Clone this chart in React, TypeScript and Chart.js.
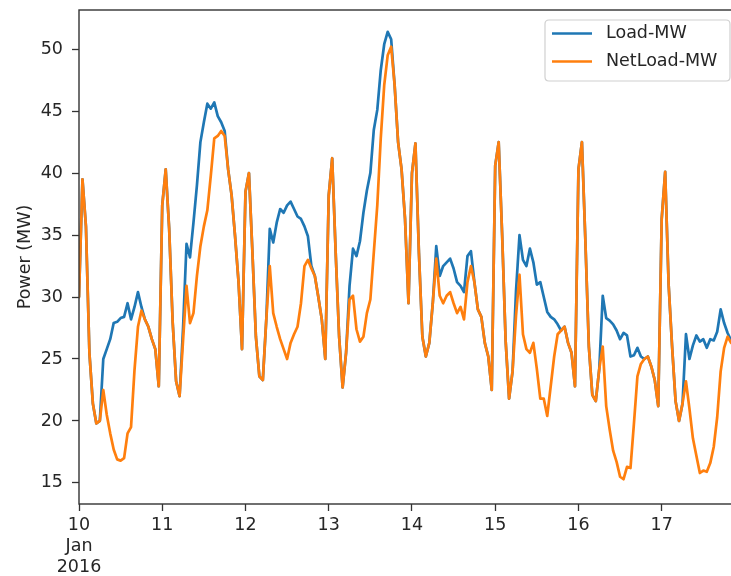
import { useEffect, useRef } from 'react';
import { Chart, registerables } from 'chart.js';

Chart.register(...registerables);

// Hourly data starting 2016-01-10 00:00
const SERIES_NAMES = ['Load-MW', 'NetLoad-MW'];
const Y_TITLE = 'Power (MW)';
const DAY_LABELS = ['10', '11', '12', '13', '14', '15', '16', '17'];
const FIRST_LABEL_EXTRA = ['Jan', '2016'];
const DAY_TICK_HOURS = [0, 24, 48, 72, 96, 120, 144, 168];
const Y_TICKS = [15, 20, 25, 30, 35, 40, 45, 50];

const LOAD_MW = [
  30.0, 39.5, 35.7, 25.5, 21.4, 19.8, 20.0, 25.0, 25.8, 26.6, 27.9, 28.0, 28.3, 28.4, 29.5, 28.2, 29.2, 30.4, 29.2, 28.2, 27.6, 26.6, 25.8, 22.8,
  37.4, 40.3, 35.5, 28.0, 23.2, 22.0, 27.5, 34.3, 33.2, 36.0, 39.0, 42.5, 44.1, 45.6, 45.2, 45.7, 44.6, 44.1, 43.4, 40.3, 38.2, 34.9, 31.2, 25.8,
  38.5, 40.0, 33.6, 26.8, 23.6, 23.3, 28.2, 35.5, 34.4, 36.0, 37.1, 36.8, 37.4, 37.7, 37.1, 36.5, 36.3, 35.7, 34.9, 32.5, 31.7, 30.0, 28.2, 25.0,
  38.2, 41.2, 33.6, 26.8, 22.7, 25.5, 30.9, 33.9, 33.3, 34.5, 36.8, 38.6, 40.0, 43.5, 45.1, 48.3, 50.4, 51.4, 50.8, 47.1, 42.5, 40.3, 36.3, 29.5,
  40.0, 42.4, 33.6, 26.8, 25.2, 26.3, 29.5, 34.1, 31.7, 32.5, 32.8, 33.1, 32.3, 31.2, 30.9, 30.4, 33.3, 33.7, 31.2, 29.0, 28.4, 26.3, 25.2, 22.5,
  40.6, 42.5, 35.0, 26.5, 21.8, 24.0, 30.5, 35.0, 33.0, 32.5, 33.9, 32.8, 31.0, 31.2, 30.0, 28.8, 28.4, 28.2, 27.8, 27.3, 27.6, 26.3, 25.5, 22.8,
  40.3, 42.5, 34.5, 26.0, 22.1, 21.6, 24.2, 30.1, 28.3, 28.1, 27.8, 27.3, 26.6, 27.1, 26.9, 25.2, 25.3, 25.9, 25.2, 25.0, 25.2, 24.4, 23.3, 21.2,
  36.3, 40.1, 31.0, 26.0, 21.6, 20.0, 21.4, 27.0, 25.0, 26.1, 26.9, 26.4, 26.6, 25.9, 26.6, 26.5, 27.2, 29.0, 27.9, 27.1, 26.5, 26.4, 26.2,
];

const NETLOAD_MW = [
  30.0, 39.5, 35.7, 25.5, 21.4, 19.8, 20.0, 22.5, 20.5, 19.0, 17.7, 16.9, 16.8, 17.0, 19.0, 19.5, 24.1, 27.6, 28.9, 28.2, 27.6, 26.6, 25.8, 22.8,
  37.4, 40.3, 35.5, 28.0, 23.2, 22.0, 26.5, 30.9, 27.9, 28.7, 31.7, 34.1, 35.7, 37.0, 39.8, 42.8, 43.0, 43.4, 43.0, 40.3, 38.2, 34.9, 31.2, 25.8,
  38.5, 40.0, 33.6, 26.8, 23.6, 23.3, 28.2, 32.5, 28.7, 27.6, 26.6, 25.8, 25.0, 26.3, 27.0, 27.6, 29.5, 32.5, 33.0, 32.3, 31.7, 30.0, 28.2, 25.0,
  38.2, 41.2, 33.6, 26.8, 22.7, 25.5, 29.8, 30.1, 27.4, 26.4, 26.8, 28.7, 29.8, 33.6, 37.4, 42.8, 47.1, 49.5, 50.2, 47.1, 42.5, 40.3, 36.3, 29.5,
  40.0, 42.4, 33.6, 26.8, 25.2, 26.3, 29.5, 33.1, 30.1, 29.5, 30.1, 30.4, 29.5, 28.7, 29.2, 28.2, 31.2, 32.5, 31.2, 29.0, 28.4, 26.3, 25.2, 22.5,
  40.6, 42.5, 35.0, 26.5, 21.8, 24.0, 28.5, 31.8, 27.0, 25.8, 25.5, 26.3, 24.2, 21.8, 21.8, 20.4, 22.8, 25.2, 27.0, 27.3, 27.6, 26.3, 25.5, 22.8,
  40.3, 42.5, 34.5, 26.0, 22.1, 21.6, 24.2, 26.0, 21.2, 19.3, 17.6, 16.7, 15.5, 15.3, 16.3, 16.2, 19.8, 23.6, 24.6, 25.0, 25.2, 24.4, 23.3, 21.2,
  36.3, 40.1, 31.0, 26.0, 21.6, 20.0, 21.4, 23.2, 21.0, 18.6, 17.2, 15.8, 16.0, 15.9, 16.6, 17.9, 20.3, 24.0, 25.9, 26.8, 26.3, 26.2, 26.1,
];

const COLORS = ['#1f77b4', '#ff7f0e'];
const FONT = '"DejaVu Sans", sans-serif';
const FONT_SIZE = 17.5;
const TEXT_COLOR = '#262626';

const mplPlugin = {
  id: 'mplDecor',
  afterDraw(chart: any) {
    const { ctx, chartArea: a } = chart;
    ctx.save();
    // frame
    ctx.strokeStyle = '#333333';
    ctx.lineWidth = 1.4;
    ctx.strokeRect(a.left, a.top, a.right - a.left, a.bottom - a.top);

    // y axis title
    ctx.save();
    ctx.translate(25, (a.top + a.bottom) / 2);
    ctx.rotate(-Math.PI / 2);
    ctx.font = `${FONT_SIZE}px ${FONT}`;
    ctx.fillStyle = TEXT_COLOR;
    ctx.textAlign = 'center';
    ctx.textBaseline = 'middle';
    ctx.fillText(Y_TITLE, 0, 0);
    ctx.restore();

    // legend
    const lx = 545, ly = 20, lw = 185, lh = 61, r = 4;
    ctx.beginPath();
    ctx.moveTo(lx + r, ly);
    ctx.lineTo(lx + lw - r, ly);
    ctx.quadraticCurveTo(lx + lw, ly, lx + lw, ly + r);
    ctx.lineTo(lx + lw, ly + lh - r);
    ctx.quadraticCurveTo(lx + lw, ly + lh, lx + lw - r, ly + lh);
    ctx.lineTo(lx + r, ly + lh);
    ctx.quadraticCurveTo(lx, ly + lh, lx, ly + lh - r);
    ctx.lineTo(lx, ly + r);
    ctx.quadraticCurveTo(lx, ly, lx + r, ly);
    ctx.closePath();
    ctx.fillStyle = 'rgba(255,255,255,0.8)';
    ctx.fill();
    ctx.strokeStyle = '#d0d0d0';
    ctx.lineWidth = 1.2;
    ctx.stroke();

    chart.data.datasets.forEach((ds: any, i: number) => {
      const yy = ly + 13.5 + i * 28;
      ctx.strokeStyle = ds.borderColor;
      ctx.lineWidth = 2.7;
      ctx.beginPath();
      ctx.moveTo(552, yy);
      ctx.lineTo(592, yy);
      ctx.stroke();
      ctx.font = `${FONT_SIZE}px ${FONT}`;
      ctx.fillStyle = TEXT_COLOR;
      ctx.textAlign = 'left';
      ctx.textBaseline = 'middle';
      ctx.fillText(ds.label, 606, yy);
    });
    ctx.restore();
  },
};

export default function App() {
  const ref = useRef<HTMLCanvasElement | null>(null);

  useEffect(() => {
    document.body.style.overflow = 'hidden';
    const canvas = ref.current;
    if (!canvas) return;
    const series = [LOAD_MW, NETLOAD_MW];
    const chart = new Chart(canvas, {
      type: 'line',
      data: {
        datasets: series.map((vals, si) => ({
          label: SERIES_NAMES[si],
          data: vals.map((v, i) => ({ x: i, y: v })),
          borderColor: COLORS[si],
          backgroundColor: COLORS[si],
          borderWidth: 2.7,
          borderJoinStyle: 'round' as const,
          borderCapStyle: 'round' as const,
          pointRadius: 0,
          tension: 0,
          fill: false,
          // later series drawn on top (matplotlib order)
          order: series.length - si,
        })),
      },
      options: {
        animation: false,
        responsive: false,
        events: [],
        layout: { padding: { top: 10, right: 2, left: 0, bottom: 0 } },
        plugins: { legend: { display: false }, tooltip: { enabled: false } },
        scales: {
          x: {
            type: 'linear',
            min: 0,
            max: 190,
            grid: { display: true, drawOnChartArea: false, drawTicks: true, tickLength: 7, tickColor: '#333333', tickWidth: 1.3 },
            border: { display: false },
            ticks: {
              autoSkip: false,
              maxRotation: 0,
              padding: 3.5,
              color: TEXT_COLOR,
              font: { family: FONT, size: FONT_SIZE, lineHeight: 1.2 },
              callback: (value: any) => {
                const i = DAY_TICK_HOURS.indexOf(Number(value));
                if (i < 0) return '';
                if (i === 0) return [DAY_LABELS[0], ...FIRST_LABEL_EXTRA];
                return DAY_LABELS[i];
              },
            },
            afterBuildTicks: (scale: any) => {
              scale.ticks = DAY_TICK_HOURS.map((v) => ({ value: v }));
            },
            afterFit: (scale: any) => {
              scale.height = 72;
              scale.paddingLeft = 0;
              scale.paddingRight = 0;
            },
          },
          y: {
            type: 'linear',
            min: 13.3,
            max: 53.16,
            grid: { display: true, drawOnChartArea: false, drawTicks: true, tickLength: 7, tickColor: '#333333', tickWidth: 1.3 },
            border: { display: false },
            ticks: {
              padding: 9,
              color: TEXT_COLOR,
              font: { family: FONT, size: FONT_SIZE },
            },
            afterBuildTicks: (scale: any) => {
              scale.ticks = Y_TICKS.map((v) => ({ value: v }));
            },
            afterFit: (scale: any) => {
              scale.width = 79;
              scale.paddingTop = 0;
              scale.paddingBottom = 0;
            },
          },
        },
      },
      plugins: [mplPlugin],
    });
    return () => chart.destroy();
  }, []);

  return (
    <div style={{ position: 'fixed', left: 0, top: 0, width: 740, height: 576, background: '#ffffff' }}>
      <canvas ref={ref} width={740} height={576} style={{ display: 'block', width: 740, height: 576 }} />
    </div>
  );
}
